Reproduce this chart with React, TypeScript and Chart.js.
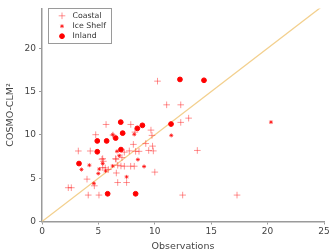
import React, { useEffect, useRef } from "react";
import { Chart, registerables } from "chart.js";
import { drawPoint } from "chart.js/helpers";

Chart.register(...registerables);

const coastalX = [10.24, 11.05, 12.3, 5.68, 7.87, 12.3, 13.0, 9.66, 4.76, 6.29, 3.22, 4.28, 5.38, 8.24, 9.75, 8.1, 9.2, 9.8, 7.3, 7.74, 8.3, 8.6, 9.46, 9.87, 13.77, 7.09, 6.53, 5.32, 5.44, 6.56, 5.61, 5.88, 6.71, 7.0, 7.3, 7.86, 8.18, 6.59, 3.99, 4.64, 2.33, 2.6, 4.1, 5.05, 6.71, 7.5, 10.0, 12.47, 17.29, 5.38];
const coastalY = [16.2, 13.47, 13.47, 11.2, 11.2, 11.44, 11.93, 10.55, 10.02, 9.98, 8.14, 8.14, 7.26, 10.32, 9.94, 8.9, 9.0, 8.7, 8.0, 8.15, 8.1, 8.1, 8.2, 8.15, 8.2, 7.38, 7.26, 7.18, 6.95, 7.18, 6.19, 6.0, 6.49, 6.41, 6.38, 6.38, 6.38, 5.6, 4.89, 4.12, 3.9, 3.9, 3.05, 3.05, 4.5, 4.5, 5.7, 3.05, 3.05, 6.23];

const iceShelfX = [3.5, 4.2, 4.6, 5.08, 5.38, 4.99, 5.64, 6.27, 7.5, 6.65, 6.85, 8.5, 9.05, 11.46, 20.3, 8.18, 6.27];
const iceShelfY = [6.0, 6.5, 4.4, 6.05, 6.69, 5.54, 5.84, 6.41, 5.15, 8.1, 7.6, 7.15, 6.35, 9.94, 11.47, 10.06, 10.02];

const inlandX = [6.98, 8.9, 12.23, 14.36, 11.44, 3.28, 4.9, 5.73, 6.53, 7.15, 4.9, 7.0, 5.82, 8.3, 8.45];
const inlandY = [11.47, 11.1, 16.4, 16.3, 11.25, 6.69, 9.3, 9.3, 9.63, 10.2, 8.05, 8.3, 3.2, 3.2, 10.75];

const oneToOne = [0, 25];
const xTicks = [0, 5, 10, 15, 20, 25];
const yTicks = [0, 5, 10, 15, 20];
const seriesNames = ["Coastal", "Ice Shelf", "Inland"];

const FONT = "'DejaVu Sans', sans-serif";

const legendPlugin = {
  id: "boxLegend",
  afterDraw(chart: any) {
    const ctx = chart.ctx;
    const x0 = 48.5, y0 = 8.5, w = 63, h = 35;
    ctx.save();
    ctx.fillStyle = "#ffffff";
    ctx.fillRect(x0, y0, w, h);
    ctx.strokeStyle = "#9a9a9a";
    ctx.lineWidth = 1;
    ctx.strokeRect(x0, y0, w, h);
    ctx.font = `7.8px ${FONT}`;
    ctx.textBaseline = "middle";
    const rows = [15.8, 26.2, 36.2];
    chart.data.datasets.forEach((ds: any, i: number) => {
      if (i > 2) return;
      ctx.fillStyle = ds.backgroundColor;
      ctx.strokeStyle = ds.borderColor;
      ctx.lineWidth = ds.borderWidth;
      drawPoint(ctx, {
        pointStyle: ds.pointStyle,
        radius: ds.pointRadius,
        borderWidth: ds.borderWidth,
        rotation: 0,
      } as any, 62, rows[i]);
      ctx.fillStyle = "#333";
      ctx.fillText(ds.label, 72.5, rows[i]);
    });
    ctx.restore();
  },
};

export default function App() {
  const ref = useRef<HTMLCanvasElement>(null);
  useEffect(() => {
    document.body.style.margin = "0";
    const toPts = (xs: number[], ys: number[]) => xs.map((x, i) => ({ x, y: ys[i] }));
    const chart = new Chart(ref.current!, {
      type: "scatter",
      data: {
        datasets: [
          {
            label: seriesNames[0],
            data: toPts(coastalX, coastalY),
            pointStyle: "cross",
            pointRadius: 3.3,
            borderWidth: 1,
            borderColor: "rgba(255,40,40,0.5)",
            backgroundColor: "rgba(255,40,40,0.5)",
          },
          {
            label: seriesNames[1],
            data: toPts(iceShelfX, iceShelfY),
            pointStyle: "star",
            pointRadius: 2,
            borderWidth: 1,
            borderColor: "rgba(255,0,0,0.7)",
            backgroundColor: "rgba(255,0,0,0.7)",
          },
          {
            label: seriesNames[2],
            data: toPts(inlandX, inlandY),
            pointStyle: "circle",
            pointRadius: 2.4,
            borderWidth: 1,
            borderColor: "rgba(255,0,0,1)",
            backgroundColor: "rgba(255,0,0,1)",
          },
          {
            type: "line",
            label: "1:1",
            data: toPts(oneToOne, oneToOne),
            borderColor: "#f3d08e",
            borderWidth: 1.3,
            pointRadius: 0,
            fill: false,
          } as any,
        ],
      },
      options: {
        animation: false,
        responsive: false,
        maintainAspectRatio: false,
        layout: { padding: { top: 7, right: 8, left: 0, bottom: 0 } },
        plugins: {
          legend: { display: false },
          tooltip: { enabled: false },
        },
        scales: {
          x: {
            type: "linear",
            min: 0,
            max: 25,
            afterBuildTicks: (s: any) => {
              s.ticks = xTicks.map((v) => ({ value: v }));
            },
            afterFit: (s: any) => {
              s.height = 30.5;
            },
            grid: { drawOnChartArea: false, tickLength: 3, color: "#9a9a9a" },
            border: { color: "#9a9a9a", width: 1.5 },
            ticks: { color: "#444", font: { family: FONT, size: 9 }, padding: 2, maxRotation: 0 },
            title: {
              display: true,
              text: "Observations",
              color: "#444",
              font: { family: FONT, size: 9.5 },
              padding: { top: 2, bottom: 0 },
            },
          },
          y: {
            type: "linear",
            min: 0,
            max: 24.6,
            afterBuildTicks: (s: any) => {
              s.ticks = yTicks.map((v) => ({ value: v }));
            },
            afterFit: (s: any) => {
              s.width = 42;
            },
            grid: { drawOnChartArea: false, tickLength: 3, color: "#9a9a9a" },
            border: { color: "#9a9a9a", width: 1.5 },
            ticks: { color: "#444", font: { family: FONT, size: 9 }, padding: 3 },
            title: {
              display: true,
              text: "COSMO-CLM²",
              color: "#444",
              font: { family: FONT, size: 9.5 },
              padding: { top: 5, bottom: 0 },
            },
          },
        },
      },
      plugins: [legendPlugin],
    });
    return () => chart.destroy();
  }, []);
  return (
    <div style={{ width: 332, height: 252, background: "#fff" }}>
      <canvas ref={ref} width={332} height={252} />
    </div>
  );
}
